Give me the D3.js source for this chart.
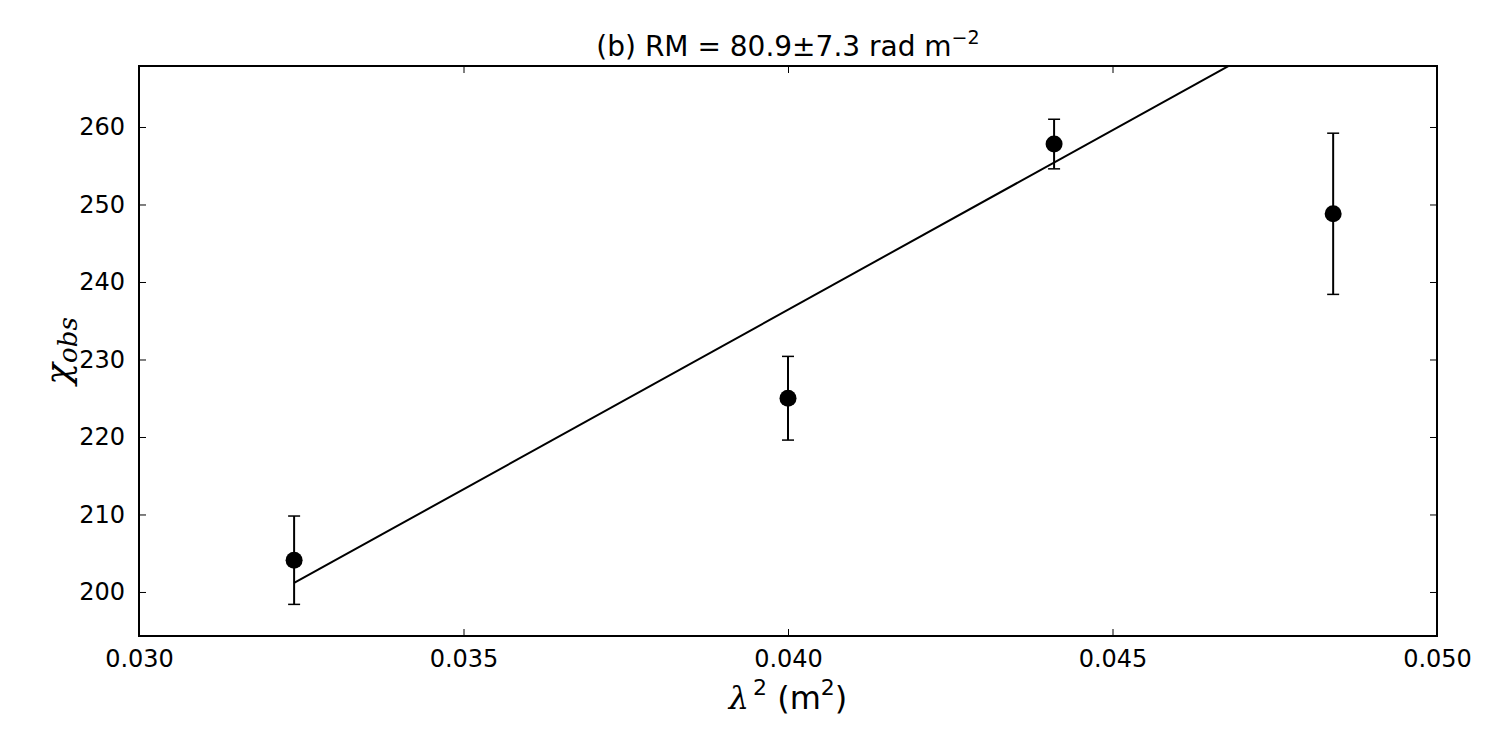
<!DOCTYPE html>
<html>
<head>
<meta charset="utf-8">
<script src="https://cdn.jsdelivr.net/npm/d3@7"></script>
<style>
  body { margin: 0; background: #fff; }
  svg text { font-family: "DejaVu Sans", sans-serif; fill: #000; }
</style>
</head>
<body>
<svg id="chart" width="1500" height="750"></svg>
<script>
// data
const lambdaSq = [0.03239, 0.04000, 0.04410, 0.04840];
const chiObs = [204.1, 225.0, 257.8, 248.8];
const chiErr = [5.7, 5.4, 3.2, 10.4];
// fitted line (RM = 80.9 rad m^-2), start at first point, runs off the top
const fitX = [0.03239, 0.04850];
const fitY = [201.16, 275.8];
const xTicks = [0.030, 0.035, 0.040, 0.045, 0.050];
const yTicks = [200, 210, 220, 230, 240, 250, 260];

const svg = d3.select("#chart");
const margin = { left: 139, right: 63, top: 66, bottom: 114 };
const W = 1500 - margin.left - margin.right;
const H = 750 - margin.top - margin.bottom;

const x = d3.scaleLinear().domain([0.030, 0.050]).range([0, W]);
const y = d3.scaleLinear().domain([194.32, 267.87]).range([H, 0]);

const g = svg.append("g").attr("transform", `translate(${margin.left},${margin.top})`);

g.append("clipPath").attr("id", "clip")
  .append("rect").attr("width", W).attr("height", H);

// axes, ticks inside on all sides
const tickLen = 7;
const xBottom = d3.axisBottom(x).tickValues(xTicks).tickFormat(d3.format(".3f")).tickSizeInner(-tickLen).tickSizeOuter(0).tickPadding(14);
const xTop = d3.axisTop(x).tickValues(xTicks).tickFormat("").tickSizeInner(-tickLen).tickSizeOuter(0);
const yLeft = d3.axisLeft(y).tickValues(yTicks).tickSizeInner(-tickLen).tickSizeOuter(0).tickPadding(14);
const yRight = d3.axisRight(y).tickValues(yTicks).tickFormat("").tickSizeInner(-tickLen).tickSizeOuter(0);

g.append("g").attr("transform", `translate(0,${H})`).call(xBottom);
g.append("g").call(xTop);
g.append("g").call(yLeft);
g.append("g").attr("transform", `translate(${W},0)`).call(yRight);

g.selectAll(".domain").remove();
g.selectAll(".tick line").attr("stroke", "#000").attr("stroke-width", 1);
g.selectAll(".tick text").style("font-size", "24px").style("font-family", "'DejaVu Sans', sans-serif");

// fit line
g.append("line")
  .attr("clip-path", "url(#clip)")
  .attr("x1", x(fitX[0])).attr("y1", y(fitY[0]))
  .attr("x2", x(fitX[1])).attr("y2", y(fitY[1]))
  .attr("stroke", "#000").attr("stroke-width", 2);

// error bars
const pts = lambdaSq.map((v, i) => ({ x: v, y: chiObs[i], e: chiErr[i] }));
const eb = g.selectAll(".err").data(pts).enter().append("g").attr("class", "err");
eb.append("line")
  .attr("x1", d => x(d.x)).attr("x2", d => x(d.x))
  .attr("y1", d => y(d.y - d.e)).attr("y2", d => y(d.y + d.e))
  .attr("stroke", "#000").attr("stroke-width", 2);
[-1, 1].forEach(s => {
  eb.append("line")
    .attr("x1", d => x(d.x) - 6).attr("x2", d => x(d.x) + 6)
    .attr("y1", d => y(d.y + s * d.e)).attr("y2", d => y(d.y + s * d.e))
    .attr("stroke", "#000").attr("stroke-width", 1.5);
});

// markers
g.selectAll(".pt").data(pts).enter().append("circle")
  .attr("cx", d => x(d.x)).attr("cy", d => y(d.y))
  .attr("r", 8.5).attr("fill", "#000");

// frame
g.append("rect").attr("width", W).attr("height", H)
  .attr("fill", "none").attr("stroke", "#000").attr("stroke-width", 2);

// title
const title = svg.append("text")
  .attr("x", margin.left + W / 2).attr("y", 56)
  .attr("text-anchor", "middle").style("font-size", "28px");
title.append("tspan").text("(b) RM = 80.9\u00B17.3 rad m");
title.append("tspan").attr("dy", -12).style("font-size", "19px").text("\u22122");

// x label
const xl = svg.append("text")
  .attr("x", margin.left + W / 2).attr("y", 709)
  .attr("text-anchor", "middle").style("font-size", "32px");
xl.append("tspan").style("font-family", "'DejaVu Serif', serif").style("font-style", "italic").text("\u03BB");
xl.append("tspan").attr("dx", 4).attr("dy", -14).style("font-size", "22px").text("2");
xl.append("tspan").attr("dy", 14).text(" (m");
xl.append("tspan").attr("dy", -14).style("font-size", "22px").text("2");
xl.append("tspan").attr("dy", 14).text(")");

// y label
const yl = svg.append("text")
  .attr("transform", `translate(70,${margin.top + H / 2}) rotate(-90)`)
  .attr("text-anchor", "middle")
  .style("font-family", "'DejaVu Serif', serif").style("font-style", "italic");
yl.append("tspan").style("font-size", "36px").text("\u03C7");
yl.append("tspan").attr("dy", 7).style("font-size", "26px").text("obs");
</script>
</body>
</html>
